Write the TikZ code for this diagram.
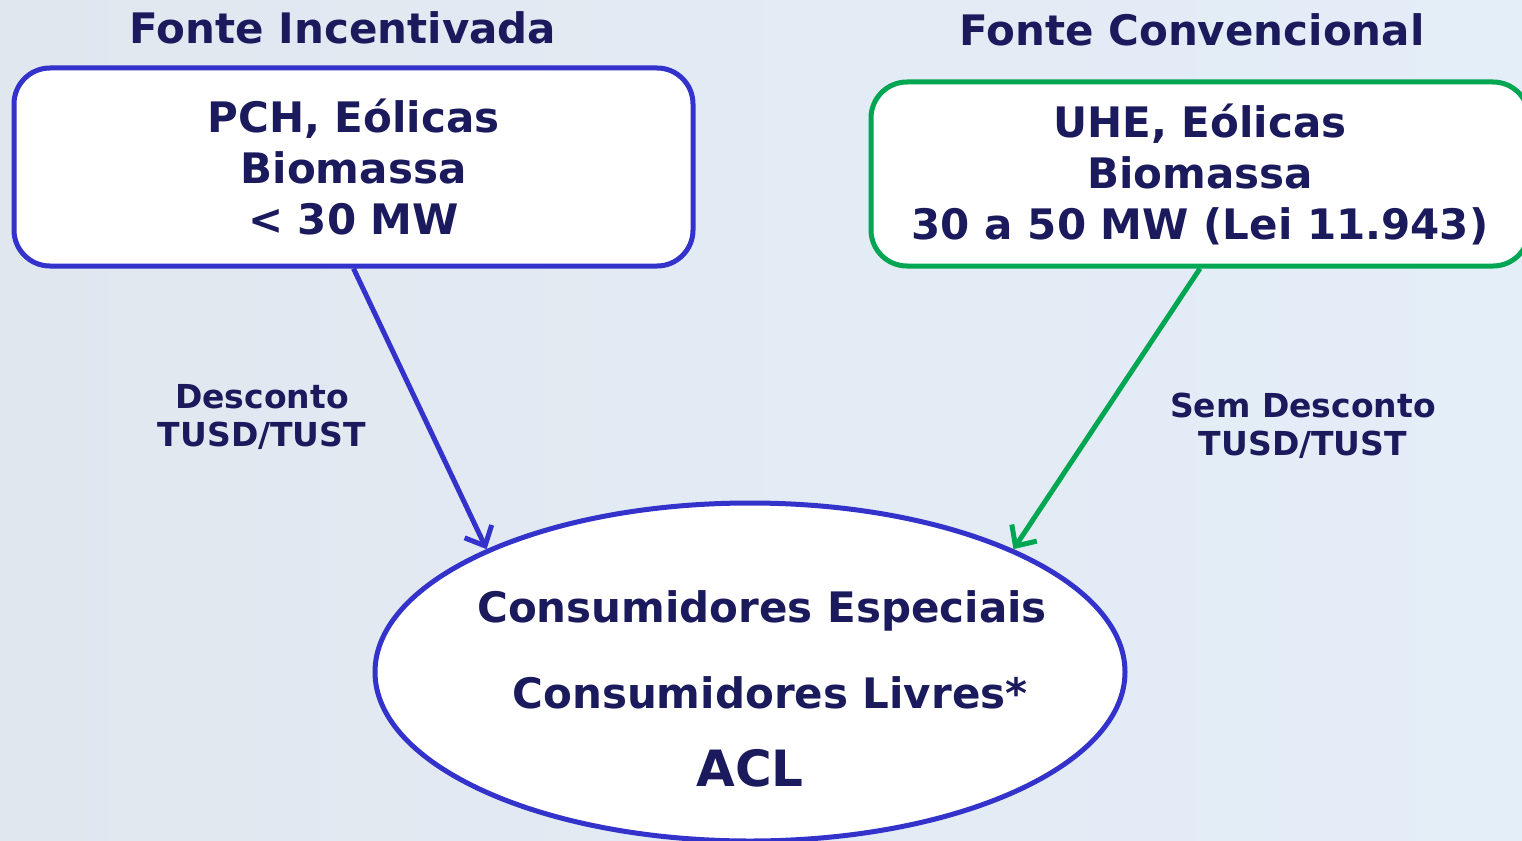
\documentclass[tikz,border=0pt]{standalone}
\usepackage{fontspec}
\setmainfont{DejaVu Sans}
\usetikzlibrary{arrows.meta,shapes.geometric}
\definecolor{navy}{HTML}{1A1A5C}
\definecolor{edgeblue}{HTML}{3333CC}
\definecolor{edgegreen}{HTML}{00A651}
\definecolor{bgleft}{HTML}{E1E7EF}
\definecolor{bgmid}{HTML}{EEF9FB}
\definecolor{bgright}{HTML}{E4EEF8}

\begin{document}
\begin{tikzpicture}[x=1pt,y=-1pt,
  title/.style={text=navy,font=\bfseries\fontsize{42}{50}\selectfont},
  srcbox/.style={draw,rounded corners=36pt,line width=5pt,fill=white,align=center,
    text=navy,font=\bfseries\fontsize{42}{51}\selectfont},
  inner/.style={text=navy,font=\bfseries\fontsize{42}{50}\selectfont},
  tag/.style={text=navy,align=center,font=\bfseries\fontsize{33}{38}\selectfont},
  arr/.style={line width=5pt,-{Straight Barb[length=16pt,width=30pt]}}]
\shade[left color=bgleft,middle color=bgmid,right color=bgright] (0,0) rectangle (1522,840);
\useasboundingbox (0,0) rectangle (1522,840);

% titles
\node[title] (tinc) at (343,28) {Fonte Incentivada};
\node[title] (tconv) at (1192,30) {Fonte Convencional};

% source boxes
\node[srcbox,draw=edgeblue,minimum width=679pt,minimum height=198pt] (inc) at (353.5,167)
  {PCH, Eólicas\\Biomassa\\< 30 MW};
\node[srcbox,draw=edgegreen,minimum width=658pt,minimum height=184pt] (conv) at (1200,174)
  {UHE, Eólicas\\Biomassa\\30 a 50 MW (Lei 11.943)};

% consumers
\node[ellipse,draw=edgeblue,fill=white,line width=5pt,minimum width=750pt,minimum height=338pt] (cons) at (750,672) {};
\node[inner] (esp) at (762,611) {Consumidores Especiais};
\node[inner] (liv) at (770,693) {Consumidores Livres*};
\node[inner,font=\bfseries\fontsize{50}{60}\selectfont] (acl) at (750,768) {ACL};

% connectors
\draw[arr,edgeblue] (inc.south) -- (cons.155);
\draw[arr,edgegreen] (conv.south) -- (cons.25);
\node[tag] (desc) at (262,417) {Desconto\\TUSD/TUST};
\node[tag] (semdesc) at (1303,426) {Sem Desconto\\TUSD/TUST};
\end{tikzpicture}
\end{document}
